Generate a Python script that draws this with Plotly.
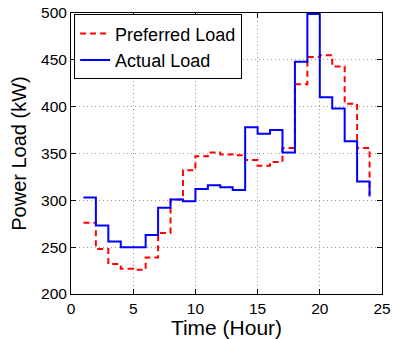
import plotly.graph_objects as go

hours = list(range(1, 25))
preferred_load = [276, 248, 232, 227, 226, 239, 265, 301, 332, 347, 351, 349,
                  348, 343, 337, 341, 356, 424, 453, 455, 443, 403, 356, 306]
actual_load = [303, 273, 256, 250, 250, 263, 292, 301, 299, 312, 316, 314,
               311, 378, 371, 375, 351, 448, 499, 410, 398, 363, 320, 304]

x_ticks = [0, 5, 10, 15, 20, 25]
y_ticks = [200, 250, 300, 350, 400, 450, 500]

fig = go.Figure()
fig.add_trace(go.Scatter(x=hours, y=preferred_load, mode="lines", line_shape="hv",
                         name="Preferred Load",
                         line=dict(color="#ff0000", width=2, dash="6px,4px")))
fig.add_trace(go.Scatter(x=hours, y=actual_load, mode="lines", line_shape="hv",
                         name="Actual Load",
                         line=dict(color="#0000ff", width=2)))

axis_common = dict(showline=True, linecolor="black", linewidth=1, mirror="ticks",
                   ticks="inside", ticklen=5, tickcolor="black", automargin=False,
                   showgrid=True, gridcolor="#9a9a9a", griddash="1px,3px", gridwidth=1,
                   zeroline=False, tickfont=dict(size=15.5, color="black"))

fig.update_layout(
    width=393, height=339,
    margin=dict(l=71, r=11, t=13, b=45, autoexpand=False),
    paper_bgcolor="white", plot_bgcolor="white",
    font=dict(family="Liberation Sans, Arial, sans-serif", color="black"),
    xaxis=dict(range=[0, 25], tickvals=x_ticks,
               title=dict(text="Time (Hour)", font=dict(size=21), standoff=0),
               **axis_common),
    yaxis=dict(range=[200, 500], tickvals=y_ticks,
               title=dict(text="Power Load (kW)", font=dict(size=20), standoff=9),
               **axis_common),
    legend=dict(x=0.01, y=0.995, xanchor="left", yanchor="top",
                bgcolor="white", bordercolor="black", borderwidth=1,
                font=dict(size=18), tracegroupgap=0, itemwidth=30),
    showlegend=True,
)

fig.write_html("out.html", config={"displayModeBar": False},
               post_script="document.body.style.margin='0';")
